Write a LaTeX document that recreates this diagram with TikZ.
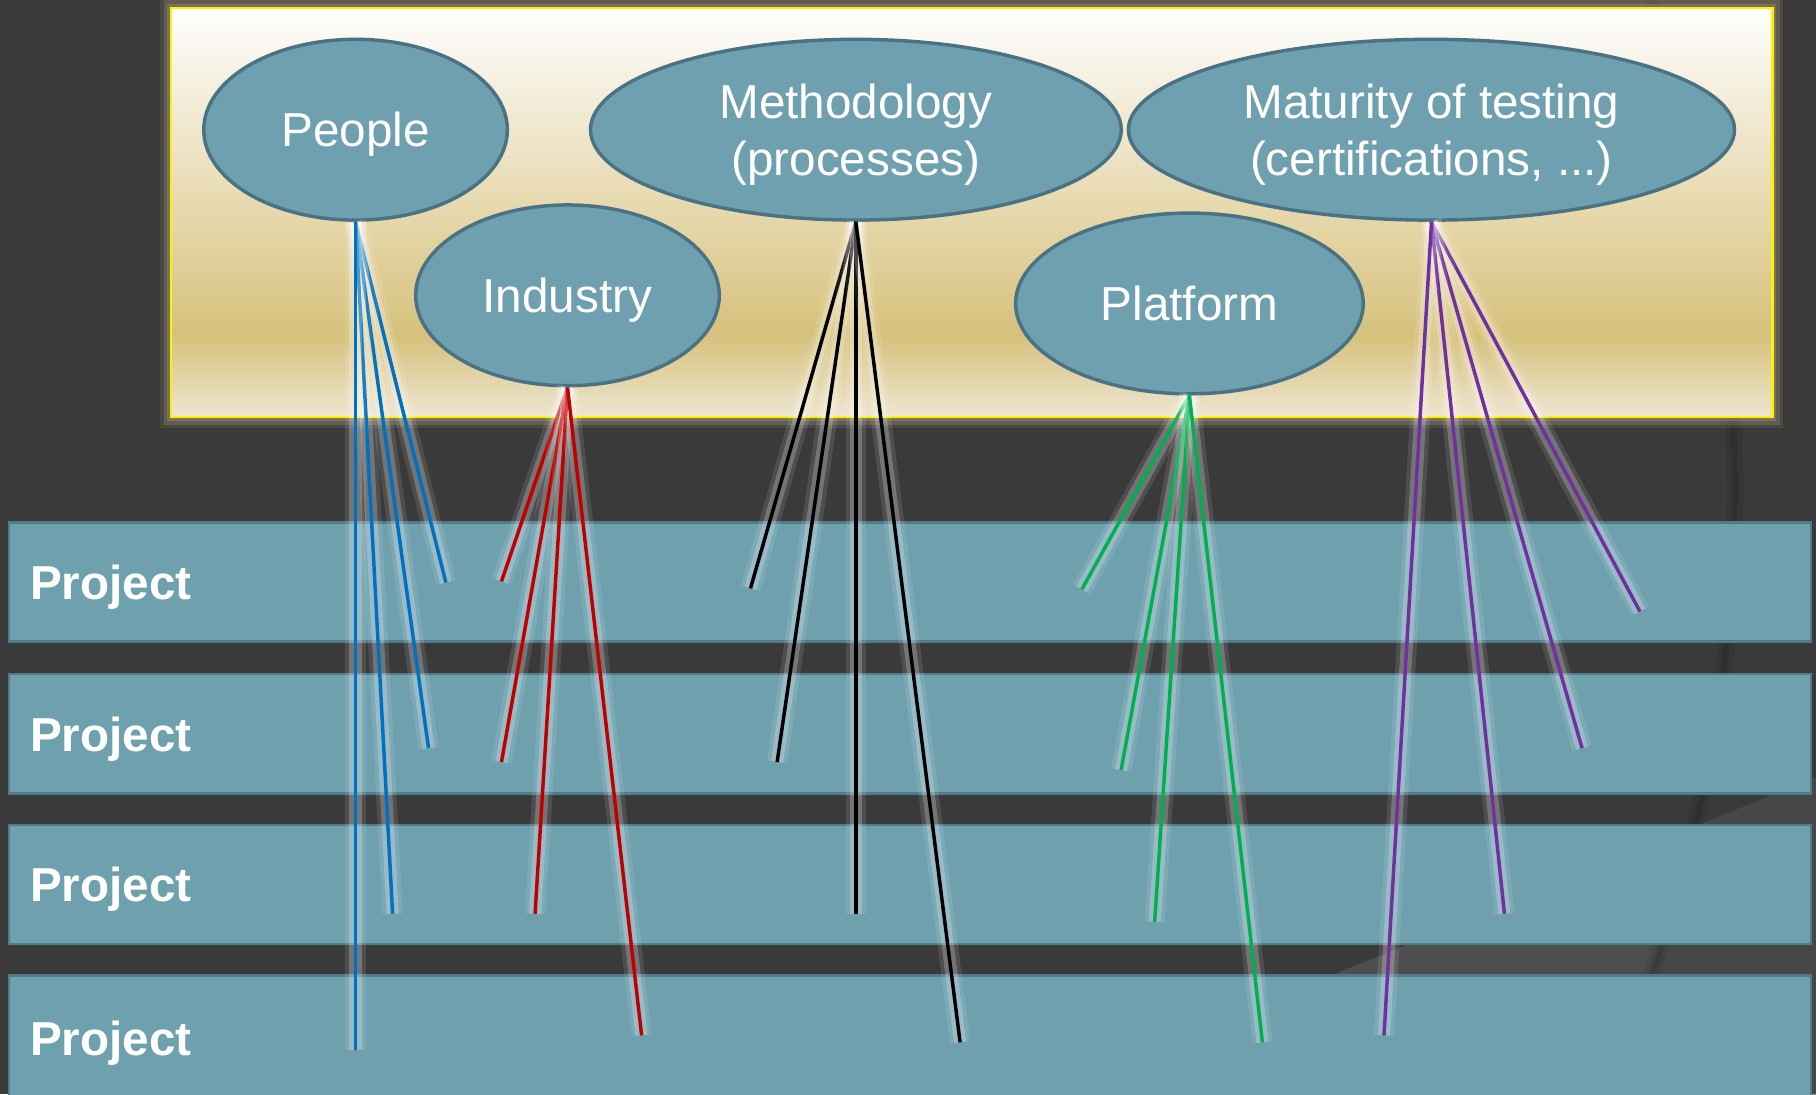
\documentclass[tikz,border=0pt]{standalone}
\usepackage{fontspec}
\setmainfont{Liberation Sans}
\usepackage{tikz}
\usetikzlibrary{shapes.geometric,positioning}

\definecolor{slate}{HTML}{3A3A3A}
\definecolor{slatelight}{HTML}{4E4E4E}
\definecolor{slatemid}{HTML}{474747}
\definecolor{glowtan}{HTML}{A89C78}
\definecolor{topicfill}{HTML}{6FA0AF}
\definecolor{topicline}{HTML}{4B7282}
\definecolor{barfill}{HTML}{6EA0AE}
\definecolor{barline}{HTML}{527B89}
\definecolor{pantop}{HTML}{FFFFFF}
\definecolor{panhigh}{HTML}{F6F1E4}
\definecolor{panmid}{HTML}{E6D8AC}
\definecolor{pantan}{HTML}{D6C17C}
\definecolor{panbot}{HTML}{EEE6D2}
\definecolor{pblue}{HTML}{0070C0}
\definecolor{pred}{HTML}{C00000}
\definecolor{pgreen}{HTML}{00B050}
\definecolor{ppurple}{HTML}{7030A0}

\pgfdeclareverticalshading{panelshade}{100bp}{color(0bp)=(panbot); color(25bp)=(panbot); color(35bp)=(pantan); color(50bp)=(panmid); color(67bp)=(panhigh); color(75bp)=(pantop); color(100bp)=(pantop)}

\begin{document}
\begin{tikzpicture}[x=0.01cm,y=-0.01cm,
		topic/.style={draw=topicline,
			line width=0.85pt,
			fill=topicfill,
			ellipse,
			inner sep=0pt,
			minimum height=1.56cm,
			text depth=0pt,
			text=white,
			align=center,
			font=\fontsize{11.7}{14}\selectfont},
		projbar/.style={draw=barline,
			line width=0.6pt,
			fill=barfill,
			rectangle,
			minimum width=15.55cm,
			minimum height=1.03cm,
			text width=15.19cm,
			text depth=0pt,
			inner xsep=0.18cm,
			outer sep=0pt,
			align=left,
			text=white,
			font=\bfseries\fontsize{11.7}{14}\selectfont},
		link/.style={line width=0.85pt,
			preaction={draw=white, draw opacity=0.1, line width=5pt},
			preaction={draw=white, draw opacity=0.22, line width=3pt}}]

		\clip (0,0) rectangle (1568,945);
		\fill[slate] (0,0) rectangle (1568,945);

		% lighter floor at the bottom right
		\fill[slatelight] (1155,840) -- (1568,671) -- (1568,945) -- (1155,945) -- cycle;
		\begin{scope}
			\clip (1155,840) -- (1568,671) -- (1568,945) -- (1155,945) -- cycle;
			\fill[slatemid, even odd rule] (1000,600) rectangle (1568,945) (254,422) circle (1244);
		\end{scope}
		\draw[black, opacity=0.08, line width=4pt] (254,422) circle (1244);
		\draw[black, opacity=0.1, line width=1.5pt] (254,422) circle (1244);

		% top panel
		\draw[glowtan, opacity=0.15, line width=5.5pt] (148,7) rectangle (1530,360);
		\draw[glowtan, opacity=0.25, line width=3.8pt] (148,7) rectangle (1530,360);
		\draw[glowtan, opacity=0.35, line width=2.2pt] (148,7) rectangle (1530,360);
		\node[draw=yellow,
			line width=0.65pt,
			shading=panelshade,
			minimum width=13.82cm,
			minimum height=3.53cm] (panel) at (839,183.5) {};

		\node[topic, minimum width=2.62cm] (people) at (307,112) {People};
		\node[topic, minimum width=2.62cm] (industry) at (490,255) {Industry};
		\node[topic, minimum width=4.58cm] (method) at (739,112) {Methodology\\(processes)};
		\node[topic, minimum width=3.00cm] (platform) at (1027,262) {Platform};
		\node[topic, minimum width=5.23cm] (maturity) at (1236,112) {Maturity of testing\\(certifications, ...)};

		% projects
		\node[projbar, anchor=north west] (proj1) at (8,451) {Project};
		\node[projbar, below=0.28cm of proj1] (proj2) {Project};
		\node[projbar, below=0.27cm of proj2] (proj3) {Project};
		\node[projbar, below=0.27cm of proj3, minimum height=1.08cm] (proj4) {Project};

		% line ends
		\coordinate (pe1) at (385,503);
		\coordinate (pe2) at (370,646);
		\coordinate (pe3) at (339,789);
		\coordinate (pe4) at (307,907);
		\coordinate (ie1) at (433,502);
		\coordinate (ie2) at (433,658);
		\coordinate (ie3) at (462,789);
		\coordinate (ie4) at (554,894);
		\coordinate (me1) at (648,508);
		\coordinate (me2) at (671,658);
		\coordinate (me3) at (739,789);
		\coordinate (me4) at (829,900);
		\coordinate (pf1) at (934,509);
		\coordinate (pf2) at (968,665);
		\coordinate (pf3) at (997,796);
		\coordinate (pf4) at (1090,900);
		\coordinate (mt1) at (1416,528);
		\coordinate (mt2) at (1366,646);
		\coordinate (mt3) at (1299,789);
		\coordinate (mt4) at (1195,894);

		\foreach \e in {pe1,pe2,pe3,pe4}
			\draw[link, pblue] (people.south) -- (\e);
		\foreach \e in {ie1,ie2,ie3,ie4}
			\draw[link, pred] (industry.south) -- (\e);
		\foreach \e in {me1,me2,me3,me4}
			\draw[link, black] (method.south) -- (\e);
		\foreach \e in {pf1,pf2,pf3,pf4}
			\draw[link, pgreen] (platform.south) -- (\e);
		\foreach \e in {mt1,mt2,mt3,mt4}
			\draw[link, ppurple] (maturity.south) -- (\e);

	\end{tikzpicture}
\end{document}
